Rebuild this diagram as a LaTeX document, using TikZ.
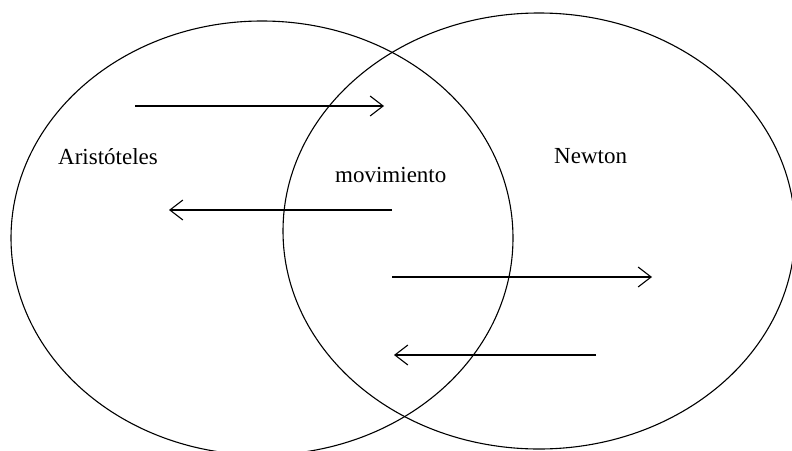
\documentclass[tikz,border=0pt]{standalone}
\usepackage{fontspec}
\setmainfont{Liberation Serif}
\usetikzlibrary{arrows.meta}
\begin{document}
\begin{tikzpicture}[x=1pt,y=-1pt,
  ring/.style={draw=black,line width=1.1pt},
  flow/.style={draw=black,line width=1.3pt,-{Straight Barb[length=13pt,width=20pt,line width=1.1pt]}},
  lbl/.style={anchor=base west,inner sep=0pt,font=\fontsize{23}{27}\selectfont}]
\useasboundingbox (0,0) rectangle (792,450);
\fill[white] (0,0) rectangle (792,450);
\begin{scope}
\clip (0,0) rectangle (792,450);
\draw[ring] (262,238) ellipse [x radius=251, y radius=217];
\draw[ring] (539,231) ellipse [x radius=256, y radius=218];
\end{scope}
\node[lbl] (aris) at (58,164) {Aristóteles};
\node[lbl] (mov) at (335,182) {movimiento};
\node[lbl] (newt) at (554,163) {Newton};
\coordinate (a1s) at (135,106); \coordinate (a1e) at (384,106);
\coordinate (a2s) at (392,210); \coordinate (a2e) at (169,210);
\coordinate (a3s) at (392,277); \coordinate (a3e) at (652,277);
\coordinate (a4s) at (596,355); \coordinate (a4e) at (394,355);
\draw[flow] (a1s) -- (a1e);
\draw[flow] (a2s) -- (a2e);
\draw[flow] (a3s) -- (a3e);
\draw[flow] (a4s) -- (a4e);
\end{tikzpicture}
\end{document}
